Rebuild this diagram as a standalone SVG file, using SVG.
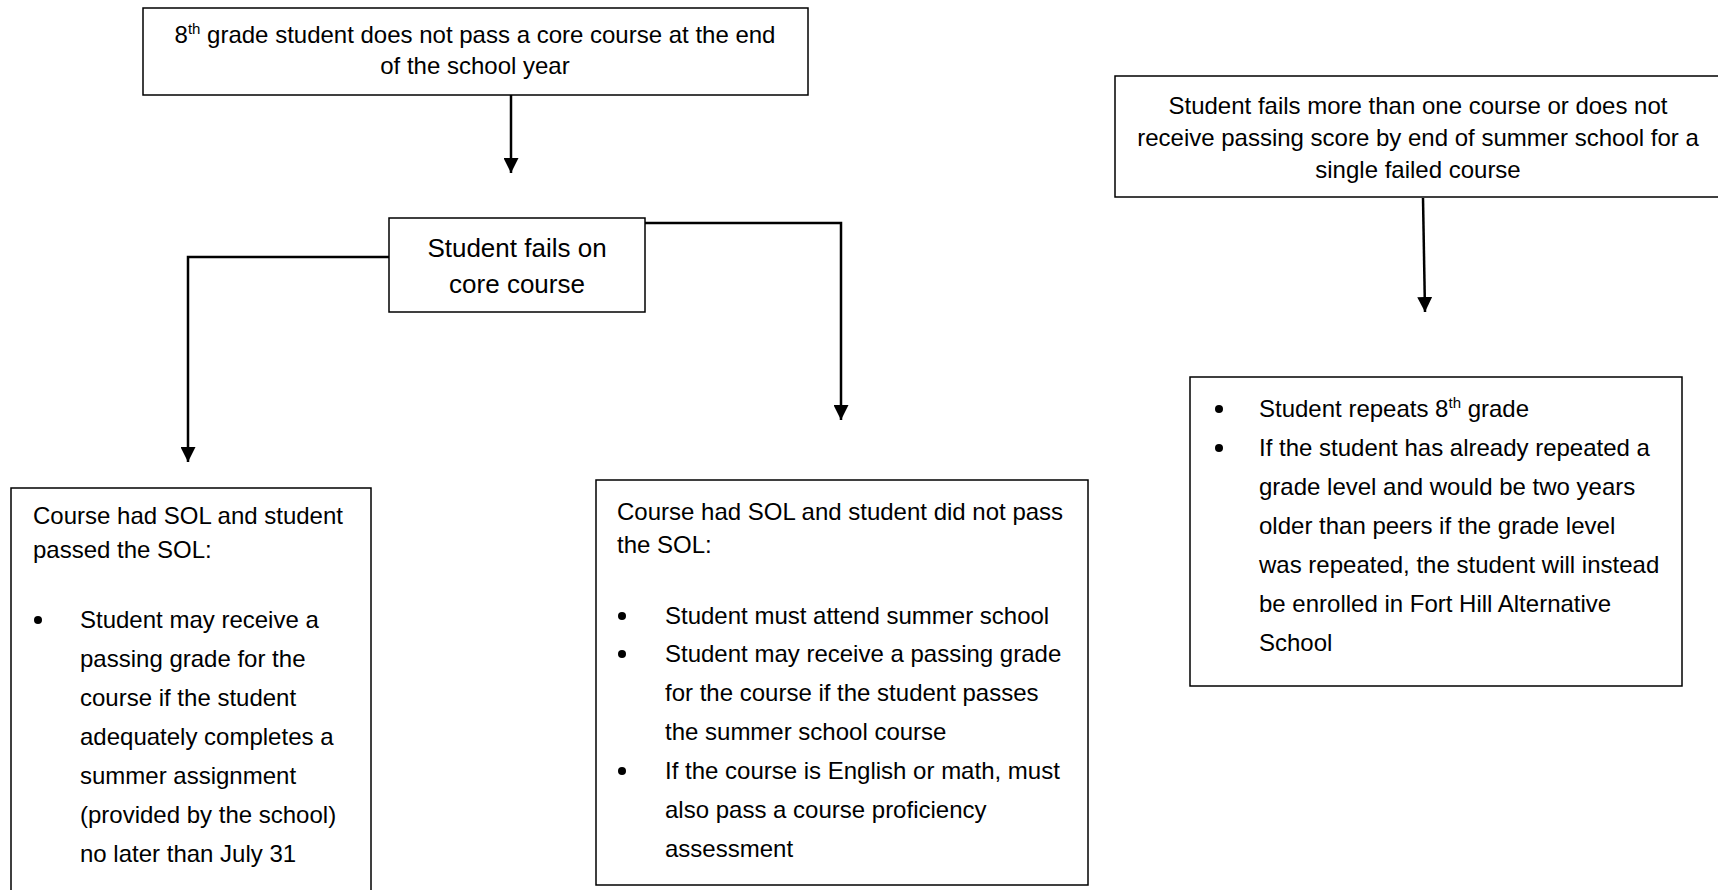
<svg xmlns="http://www.w3.org/2000/svg" width="1718" height="890" viewBox="0 0 1718 890">
<defs>
<style>
.box{fill:#fff;stroke:#000;stroke-width:1.5}
.t{font-family:"Liberation Sans",Arial,sans-serif;font-size:24px;fill:#000}
.c{text-anchor:middle}
.big{font-size:26px}
.conn{fill:none;stroke:#000;stroke-width:2.5}
.dot{fill:#000}
</style>
<marker id="ah" viewBox="0 0 10 10" refX="10" refY="5" markerWidth="15" markerHeight="15" markerUnits="userSpaceOnUse" orient="auto">
<path d="M0,0 L10,5 L0,10 Z" fill="#000"/>
</marker>
</defs>
<rect width="1718" height="890" fill="#fff"/>
<g id="connectors">
<path class="conn" d="M511,95 L511,173" marker-end="url(#ah)"/>
<path class="conn" d="M389,257 L188,257 L188,462" marker-end="url(#ah)"/>
<path class="conn" d="M645,223 L841,223 L841,420" marker-end="url(#ah)"/>
<path class="conn" d="M1423,198 L1425,312" marker-end="url(#ah)"/>
</g>
<g id="n1">
<rect class="box" x="143" y="8" width="665" height="87"/>
<text class="t c" x="475" y="43">8<tspan font-size="15" dy="-9">th</tspan><tspan dy="9"> grade student does not pass a core course at the end</tspan></text>
<text class="t c" x="475" y="74">of the school year</text>
</g>
<g id="n2">
<rect class="box" x="389" y="218" width="256" height="94"/>
<text class="t c big" x="517" y="257">Student fails on</text>
<text class="t c big" x="517" y="293">core course</text>
</g>
<g id="n3">
<rect class="box" x="11" y="488" width="360" height="420"/>
<text class="t" x="33" y="524">Course had SOL and student</text>
<text class="t" x="33" y="558">passed the SOL:</text>
<circle class="dot" cx="38" cy="620" r="4"/>
<text class="t" x="80" y="628">Student may receive a</text>
<text class="t" x="80" y="667">passing grade for the</text>
<text class="t" x="80" y="706">course if the student</text>
<text class="t" x="80" y="745">adequately completes a</text>
<text class="t" x="80" y="784">summer assignment</text>
<text class="t" x="80" y="823">(provided by the school)</text>
<text class="t" x="80" y="862">no later than July 31</text>
</g>
<g id="n4">
<rect class="box" x="596" y="480" width="492" height="405"/>
<text class="t" x="617" y="520">Course had SOL and student did not pass</text>
<text class="t" x="617" y="553">the SOL:</text>
<circle class="dot" cx="622" cy="616" r="4"/>
<text class="t" x="665" y="624">Student must attend summer school</text>
<circle class="dot" cx="622" cy="654" r="4"/>
<text class="t" x="665" y="662">Student may receive a passing grade</text>
<text class="t" x="665" y="701">for the course if the student passes</text>
<text class="t" x="665" y="740">the summer school course</text>
<circle class="dot" cx="622" cy="771" r="4"/>
<text class="t" x="665" y="779">If the course is English or math, must</text>
<text class="t" x="665" y="818">also pass a course proficiency</text>
<text class="t" x="665" y="857">assessment</text>
</g>
<g id="n5">
<rect class="box" x="1115" y="76" width="620" height="121"/>
<text class="t c" x="1418" y="114">Student fails more than one course or does not</text>
<text class="t c" x="1418" y="146">receive passing score by end of summer school for a</text>
<text class="t c" x="1418" y="178">single failed course</text>
</g>
<g id="n6">
<rect class="box" x="1190" y="377" width="492" height="309"/>
<circle class="dot" cx="1219" cy="409" r="4"/>
<text class="t" x="1259" y="417">Student repeats 8<tspan font-size="15" dy="-9">th</tspan><tspan dy="9"> grade</tspan></text>
<circle class="dot" cx="1219" cy="448" r="4"/>
<text class="t" x="1259" y="456">If the student has already repeated a</text>
<text class="t" x="1259" y="495">grade level and would be two years</text>
<text class="t" x="1259" y="534">older than peers if the grade level</text>
<text class="t" x="1259" y="573">was repeated, the student will instead</text>
<text class="t" x="1259" y="612">be enrolled in Fort Hill Alternative</text>
<text class="t" x="1259" y="651">School</text>
</g>
</svg>
